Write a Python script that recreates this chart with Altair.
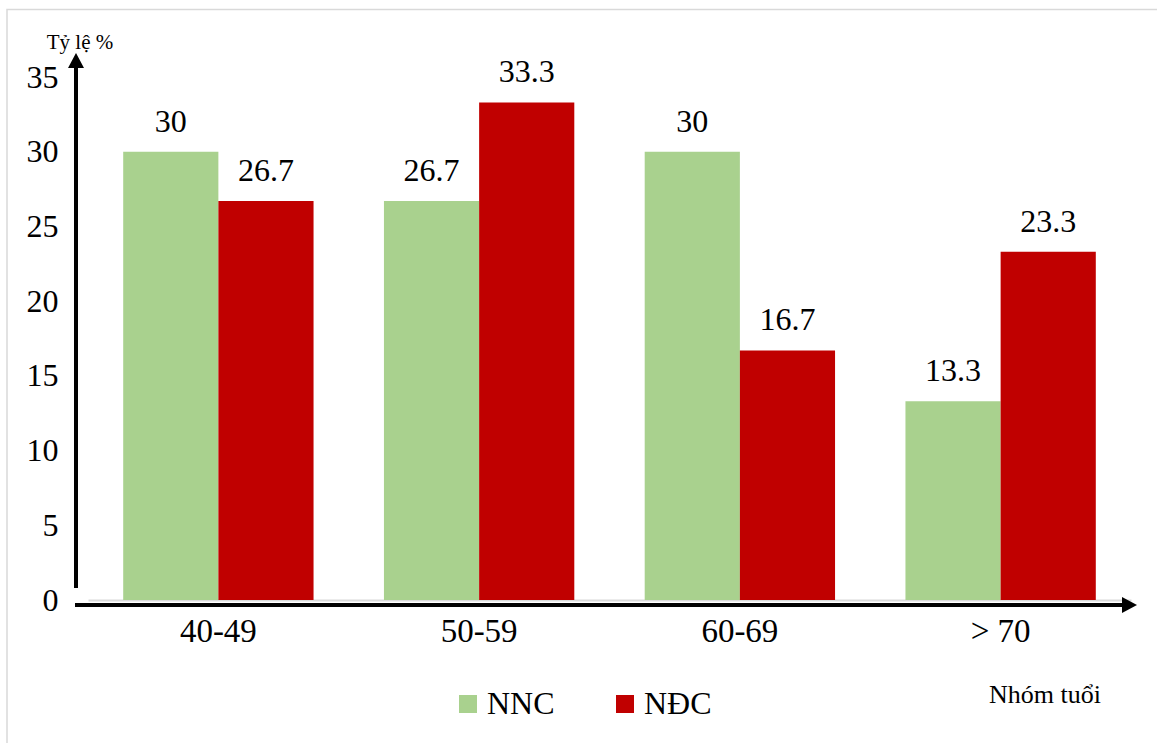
import altair as alt
import pandas as pd

groups = ["40-49", "50-59", "60-69", "> 70"]
series = ["NNC", "NĐC"]
nnc = [30, 26.7, 30, 13.3]
ndc = [26.7, 33.3, 16.7, 23.3]
colors = ["#a9d18e", "#c00000"]
y_ticks = [0, 5, 10, 15, 20, 25, 30, 35]

rows = []
for g, a, b in zip(groups, nnc, ndc):
    rows.append({"group": g, "series": series[0], "value": a})
    rows.append({"group": g, "series": series[1], "value": b})
df = pd.DataFrame(rows)

FONT = "Liberation Serif"

x_enc = alt.X("group:N", sort=groups,
              scale=alt.Scale(paddingInner=0.27, paddingOuter=0.135),
              axis=alt.Axis(title=None, labelFont=FONT, labelFontSize=33, labelColor="#000",
                            labelAngle=0, ticks=False, domainColor="#d9d9d9", domainWidth=2,
                            labelPadding=15, labelBaseline="top"))
xo = alt.XOffset("series:N", sort=series, scale=alt.Scale(paddingInner=0, paddingOuter=0))
y_scale = alt.Scale(domain=[0, 35], nice=False)

bars = alt.Chart(df).mark_bar().encode(
    x=x_enc,
    xOffset=xo,
    y=alt.Y("value:Q", scale=y_scale,
            axis=alt.Axis(title=None, values=y_ticks, grid=False, domain=False, ticks=False,
                          labelFont=FONT, labelFontSize=32, labelColor="#000", labelPadding=30)),
    color=alt.Color("series:N", sort=series,
                    scale=alt.Scale(domain=series, range=colors),
                    legend=alt.Legend(title=None, orient="none", direction="horizontal",
                                      legendX=364, legendY=611, symbolType="square",
                                      symbolSize=324, symbolStrokeWidth=0, labelFont=FONT,
                                      labelFontSize=32, labelColor="#000", labelOffset=3,
                                      columnPadding=54)),
)

labels = alt.Chart(df).mark_text(font=FONT, fontSize=32, color="#000",
                                 baseline="alphabetic", dy=-20).encode(
    x=alt.X("group:N", sort=groups),
    xOffset=xo,
    y=alt.Y("value:Q", scale=y_scale),
    text=alt.Text("value:Q"),
)

deco = pd.DataFrame({"k": [0]})
x_line = alt.Chart(deco).mark_rule(color="#000", strokeWidth=4).encode(
    x=alt.value(-13), x2=alt.value(1036), y=alt.value(528))
x_head = alt.Chart(deco).mark_point(
    shape="M -0.75 -0.8 L 0.75 0 L -0.75 0.8 Z", size=400, filled=True, color="#000", opacity=1
).encode(x=alt.value(1041.5), y=alt.value(528))
y_line = alt.Chart(deco).mark_rule(color="#000", strokeWidth=4).encode(
    x=alt.value(-12), y=alt.value(511), y2=alt.value(-12))
y_head = alt.Chart(deco).mark_point(
    shape="M -0.8 0.75 L 0 -0.75 L 0.8 0.75 Z", size=400, filled=True, color="#000", opacity=1
).encode(x=alt.value(-12), y=alt.value(-16.5))

y_title = alt.Chart(deco).mark_text(text="Tỷ lệ %", font=FONT, fontSize=21, color="#000",
                                    baseline="middle", align="center").encode(
    x=alt.value(-8), y=alt.value(-34))
x_title = alt.Chart(deco).mark_text(text="Nhóm tuổi", font=FONT, fontSize=26, color="#000",
                                    baseline="middle", align="center").encode(
    x=alt.value(957), y=alt.value(618))
frame = alt.Chart(deco).mark_rect(fill=None, stroke="#d9d9d9", strokeWidth=1.5).encode(
    x=alt.value(-81), x2=alt.value(1090), y=alt.value(-67.5), y2=alt.value(690))

chart = alt.layer(frame, bars, labels, x_line, x_head, y_line, y_head, y_title, x_title).properties(
    width=1043, height=523,
    padding={"left": 88, "top": 77, "right": 26, "bottom": 143},
    autosize=alt.AutoSizeParams(type="none"),
    background="#ffffff",
).configure_view(stroke=None)

chart.save("out.html", embed_options={"renderer": "svg", "actions": False})
